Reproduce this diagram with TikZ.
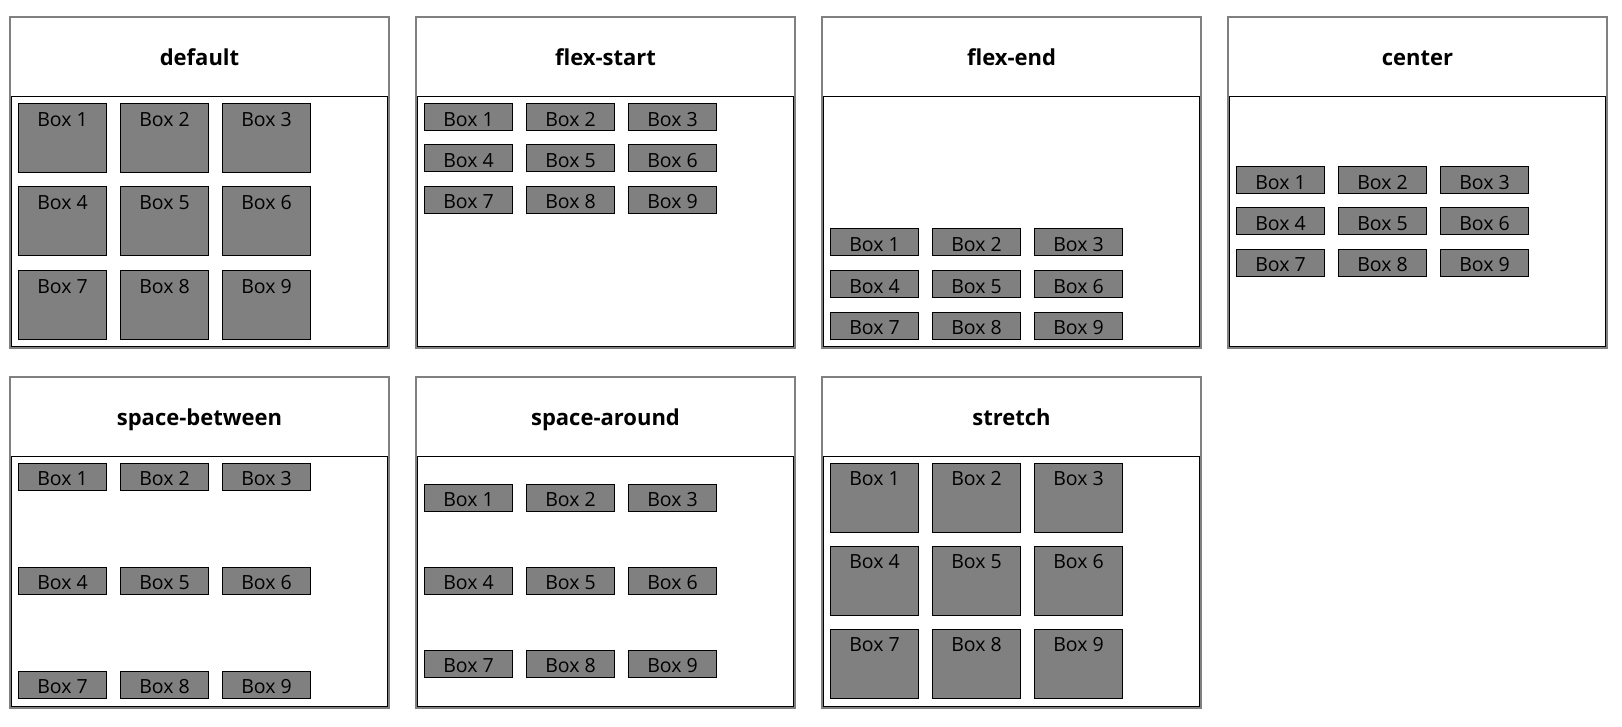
\documentclass[tikz,border=0pt]{standalone}
\usepackage{fontspec}
\setmainfont{Open Sans}
\usetikzlibrary{positioning}
\definecolor{boxgray}{HTML}{808080}

\begin{document}
\begin{tikzpicture}[x=1pt, y=-1pt,
    panel/.style = {draw=boxgray, line width=2pt, minimum width=379pt, minimum height=331pt,
            inner sep=0pt, outer sep=0pt, anchor=north west},
    inner/.style = {draw, line width=1pt, minimum width=376pt, minimum height=250pt,
            inner sep=0pt, outer sep=0pt, anchor=north west},
    title/.style = {font=\fontsize{22}{26}\selectfont\bfseries, anchor=base, inner sep=0pt},
    item/.style = {draw, fill=boxgray, line width=1pt, minimum width=87.4pt, inner sep=0pt,
            outer sep=0pt, text height=22.7pt, anchor=north west, font=\fontsize{19.5}{23}\selectfont},
    short/.style = {item, text depth=4.3pt},
    tall/.style = {item, text depth=46.3pt},
  ]
  \useasboundingbox (0,0) rectangle (1622,727);

  \foreach \lbl/\c/\r/\d/\p/\s in {
      default/0/0/7/83.5/tall,
      flex-start/1/0/7/41.4/short,
      flex-end/2/0/132.5/41.5/short,
      center/3/0/70/41.4/short,
      space-between/0/1/7/104/short,
      space-around/1/1/28/83/short,
      stretch/2/1/7/83/tall}
    {
      \pgfmathsetmacro\X{10+406*\c}
      \pgfmathsetmacro\Y{17+359.5*\r}
      \node[panel] (\lbl) at (\X,\Y) {};
      \node[inner] (\lbl-in) at (\X+1.5,\Y+79.5) {};
      \node[title] (\lbl-title) at (\X+189.5,\Y+48.5) {\lbl};
      \foreach \i in {1,...,9}
        {
          \pgfmathtruncatemacro\col{mod(\i-1,3)}
          \pgfmathtruncatemacro\row{div(\i-1,3)}
          \node[\s] (\lbl-\i) at (\X+8.8+102*\col, \Y+79.5+\d+\p*\row) {Box \i};
        }
    }
\end{tikzpicture}
\end{document}
